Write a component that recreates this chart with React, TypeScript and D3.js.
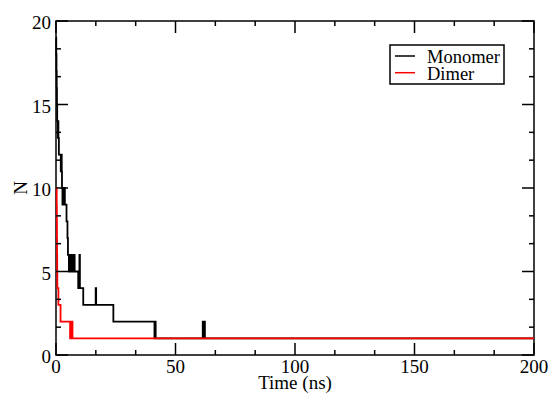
import React from "react";
import * as d3 from "d3";

const monomerTime = [0, 0.1, 0.2, 0.3, 0.4, 0.5, 0.8, 0.9, 1.0, 1.2, 2.0, 2.2, 2.4, 2.5, 2.7, 3.0, 3.3, 3.5, 3.7, 4.4, 4.8, 5.0, 5.4, 5.9, 6.1, 6.6, 6.9, 7.6, 7.8, 9.3, 9.8, 10.0, 11.4, 16.6, 16.8, 24, 41.2, 41.5, 41.7, 61.4, 61.8, 62.0, 62.3, 200];
const monomerN = [19, 18, 17, 16, 15, 14, 13, 14, 13, 12, 11, 12, 11, 10, 9, 10, 9, 10, 9, 8, 7, 6, 5, 6, 5, 6, 5, 6, 5, 4, 6, 4, 3, 4, 3, 2, 1, 2, 1, 2, 1, 2, 1, 1];

const dimerTime = [0, 0.3, 0.35, 0.4, 0.45, 0.5, 0.55, 1.0, 1.9, 5.9, 6.1, 6.4, 6.6, 6.9, 200];
const dimerN = [10, 9, 8, 7, 6, 5, 4, 3, 2, 1, 2, 1, 2, 1, 1];

const xMajor = [0, 50, 100, 150, 200];
const yMajor = [0, 5, 10, 15, 20];
const seriesNames = ["Monomer", "Dimer"];
const seriesColors = ["#000000", "#ff0000"];

const W = 552, H = 397;
const L = 56, R = 534, T = 21, B = 355;
const FONT = "'Liberation Serif', 'Times New Roman', serif";

export default function App() {
  const x = d3.scaleLinear().domain([0, 200]).range([L, R]);
  const y = d3.scaleLinear().domain([0, 20]).range([B, T]);
  const line = d3.line<[number, number]>().x(d => x(d[0])).y(d => y(d[1])).curve(d3.curveStepAfter);

  const mon: [number, number][] = monomerTime.map((t, i) => [t, monomerN[i]]);
  const dim: [number, number][] = dimerTime.map((t, i) => [t, dimerN[i]]);

  const xMinor: number[] = [];
  for (let i = 0; i < xMajor.length - 1; i++) {
    const a = xMajor[i], b = xMajor[i + 1];
    xMinor.push(a + (b - a) / 3, a + (2 * (b - a)) / 3);
  }
  const yMinor: number[] = [];
  for (let i = 0; i < yMajor.length - 1; i++) {
    const a = yMajor[i], b = yMajor[i + 1];
    yMinor.push(a + (b - a) / 3, a + (2 * (b - a)) / 3);
  }
  const maj = 12, min = 5;
  const sw = 1.5;

  return (
    <svg width={W} height={H} style={{ position: "absolute", left: 0, top: 0, background: "#fff" }} fontFamily={FONT}>
      <rect x={0} y={0} width={W} height={H} fill="#fff" />
      <rect x={L} y={T} width={R - L} height={B - T} fill="none" stroke="#000" strokeWidth={sw} />
      <path d={line(mon) || ""} fill="none" stroke={seriesColors[0]} strokeWidth={1.8} />
      <path d={line(dim) || ""} fill="none" stroke={seriesColors[1]} strokeWidth={1.8} />
      {xMajor.map(v => (
        <g key={"xm" + v}>
          <line x1={x(v)} x2={x(v)} y1={B} y2={B - maj} stroke="#000" strokeWidth={sw} />
          <line x1={x(v)} x2={x(v)} y1={T} y2={T + maj} stroke="#000" strokeWidth={sw} />
          <text x={x(v)} y={372.5} textAnchor="middle" fontSize={19}>{v}</text>
        </g>
      ))}
      {xMinor.map(v => (
        <g key={"xn" + v}>
          <line x1={x(v)} x2={x(v)} y1={B} y2={B - min} stroke="#000" strokeWidth={sw} />
          <line x1={x(v)} x2={x(v)} y1={T} y2={T + min} stroke="#000" strokeWidth={sw} />
        </g>
      ))}
      {yMajor.map(v => (
        <g key={"ym" + v}>
          <line x1={L} x2={L + maj} y1={y(v)} y2={y(v)} stroke="#000" strokeWidth={sw} />
          <line x1={R} x2={R - maj} y1={y(v)} y2={y(v)} stroke="#000" strokeWidth={sw} />
          <text x={51} y={y(v) + 8.3} textAnchor="end" fontSize={19}>{v}</text>
        </g>
      ))}
      {yMinor.map(v => (
        <g key={"yn" + v}>
          <line x1={L} x2={L + min} y1={y(v)} y2={y(v)} stroke="#000" strokeWidth={sw} />
          <line x1={R} x2={R - min} y1={y(v)} y2={y(v)} stroke="#000" strokeWidth={sw} />
        </g>
      ))}
      <text x={(L + R) / 2} y={389} textAnchor="middle" fontSize={19}>Time (ns)</text>
      <text transform={`translate(27,188) rotate(-90)`} textAnchor="middle" fontSize={19}>N</text>
      <rect x={390} y={45} width={114} height={39} fill="#fff" stroke="#000" strokeWidth={sw} />
      {seriesNames.map((n, i) => (
        <g key={n}>
          <line x1={395} x2={415} y1={56 + i * 16.7} y2={56 + i * 16.7} stroke={seriesColors[i]} strokeWidth={1.5} />
          <text x={427} y={63 + i * 16.5} fontSize={18.5}>{n}</text>
        </g>
      ))}
    </svg>
  );
}
